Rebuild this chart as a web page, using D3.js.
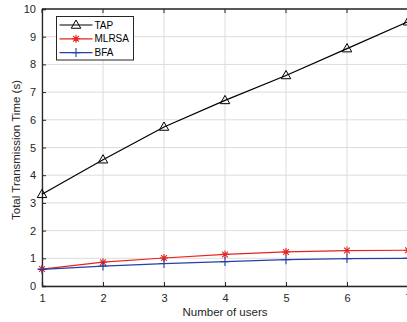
<!DOCTYPE html>
<html>
<head>
<meta charset="utf-8">
<script src="https://cdn.jsdelivr.net/npm/d3@7"></script>
<style>
  body { margin: 0; background: #fff; }
  text { font-family: "Liberation Sans", Arial, sans-serif; }
</style>
</head>
<body>
<svg id="chart" width="407" height="322"></svg>
<script>
// Number of users on the x axis
const users = [1, 2, 3, 4, 5, 6, 7];
// Total transmission time (s) per scheme
const tap   = [3.31, 4.56, 5.74, 6.70, 7.60, 8.57, 9.54];
const mlrsa = [0.61, 0.86, 1.01, 1.14, 1.23, 1.28, 1.29];
const bfa   = [0.60, 0.72, 0.81, 0.88, 0.95, 0.99, 1.00];
const yTicks = [0, 1, 2, 3, 4, 5, 6, 7, 8, 9, 10];

const series = [
  { name: "TAP",   values: tap,   color: "#000000", marker: "triangle" },
  { name: "MLRSA", values: mlrsa, color: "#e8231f", marker: "asterisk" },
  { name: "BFA",   values: bfa,   color: "#2541a3", marker: "plus" }
];

const svg = d3.select("#chart");
const plotL = 42, plotR = 408, plotT = 9, plotB = 286;

const x = d3.scaleLinear().domain([1, 7]).range([plotL, plotR]);
const y = d3.scaleLinear().domain([0, 10]).range([plotB, plotT]);

// Grid
const grid = svg.append("g").attr("stroke", "#dcdcdc").attr("stroke-width", 1);
users.forEach(u => grid.append("line")
  .attr("x1", x(u)).attr("x2", x(u)).attr("y1", plotT).attr("y2", plotB));
yTicks.forEach(t => grid.append("line")
  .attr("x1", plotL).attr("x2", plotR).attr("y1", y(t)).attr("y2", y(t)));

// Axes (ticks pointing inward)
const axisColor = "#262626";
const gx = svg.append("g").attr("transform", `translate(0,${plotB})`)
  .call(d3.axisBottom(x).tickValues(users).tickSize(-4).tickPadding(8).tickFormat(d3.format("d")));
const gy = svg.append("g").attr("transform", `translate(${plotL},0)`)
  .call(d3.axisLeft(y).tickValues(yTicks).tickSize(-4).tickPadding(6).tickFormat(d3.format("d")));
[gx, gy].forEach(g => {
  g.select(".domain").attr("stroke", axisColor).attr("stroke-width", 1.3);
  g.selectAll(".tick line").attr("stroke", axisColor);
  g.selectAll(".tick text").attr("fill", "#262626").style("font-size", "11px")
    .style("font-family", "'Liberation Sans', Arial, sans-serif");
});
// Top border
svg.append("line").attr("x1", plotL).attr("x2", plotR).attr("y1", plotT).attr("y2", plotT)
  .attr("stroke", axisColor).attr("stroke-width", 1.3);
// Top-side ticks
users.forEach(u => svg.append("line")
  .attr("x1", x(u)).attr("x2", x(u)).attr("y1", plotT).attr("y2", plotT + 4)
  .attr("stroke", axisColor));

// Axis titles
svg.append("text").attr("x", (plotL + plotR) / 2).attr("y", 316)
  .attr("text-anchor", "middle").attr("fill", "#262626").style("font-size", "11.5px")
  .text("Number of users");
svg.append("text")
  .attr("transform", `translate(20,150) rotate(-90)`)
  .attr("text-anchor", "middle").attr("fill", "#262626").style("font-size", "11.5px")
  .text("Total Transmission Time (s)");

function drawMarker(g, type, cx, cy, color) {
  if (type === "triangle") {
    const s = 5;
    g.append("path")
      .attr("d", `M${cx},${cy - s} L${cx + s * 0.95},${cy + s * 0.65} L${cx - s * 0.95},${cy + s * 0.65} Z`)
      .attr("fill", "none").attr("stroke", color).attr("stroke-width", 1);
  } else if (type === "asterisk") {
    const s = 4;
    const p = `M${cx - s},${cy} L${cx + s},${cy} M${cx},${cy - s} L${cx},${cy + s}` +
      ` M${cx - s * 0.72},${cy - s * 0.72} L${cx + s * 0.72},${cy + s * 0.72}` +
      ` M${cx - s * 0.72},${cy + s * 0.72} L${cx + s * 0.72},${cy - s * 0.72}`;
    g.append("path").attr("d", p).attr("stroke", color).attr("stroke-width", 1.1).attr("fill", "none");
  } else {
    const s = 4.5;
    g.append("path").attr("d", `M${cx - s},${cy} L${cx + s},${cy} M${cx},${cy - s} L${cx},${cy + s}`)
      .attr("stroke", color).attr("stroke-width", 1.1).attr("fill", "none");
  }
}

const line = d3.line().x(d => x(d[0])).y(d => y(d[1]));
series.forEach(s => {
  const pts = users.map((u, i) => [u, s.values[i]]);
  const g = svg.append("g");
  g.append("path").datum(pts).attr("d", line)
    .attr("fill", "none").attr("stroke", s.color).attr("stroke-width", 1.2);
  pts.forEach(p => drawMarker(g, s.marker, x(p[0]), y(p[1]), s.color));
});

// Legend
const lg = svg.append("g");
lg.append("rect").attr("x", 56.5).attr("y", 16.5).attr("width", 77).attr("height", 43.5)
  .attr("fill", "#fff").attr("stroke", "#262626").attr("stroke-width", 1);
series.forEach((s, i) => {
  const cy = 25 + i * 13.8;
  lg.append("line").attr("x1", 59.5).attr("x2", 92.5).attr("y1", cy).attr("y2", cy)
    .attr("stroke", s.color).attr("stroke-width", 1.2);
  drawMarker(lg, s.marker, 76, cy, s.color);
  lg.append("text").attr("x", 94.5).attr("y", cy + 3.6).attr("fill", "#000")
    .style("font-size", "10px").text(s.name);
});
</script>
</body>
</html>
